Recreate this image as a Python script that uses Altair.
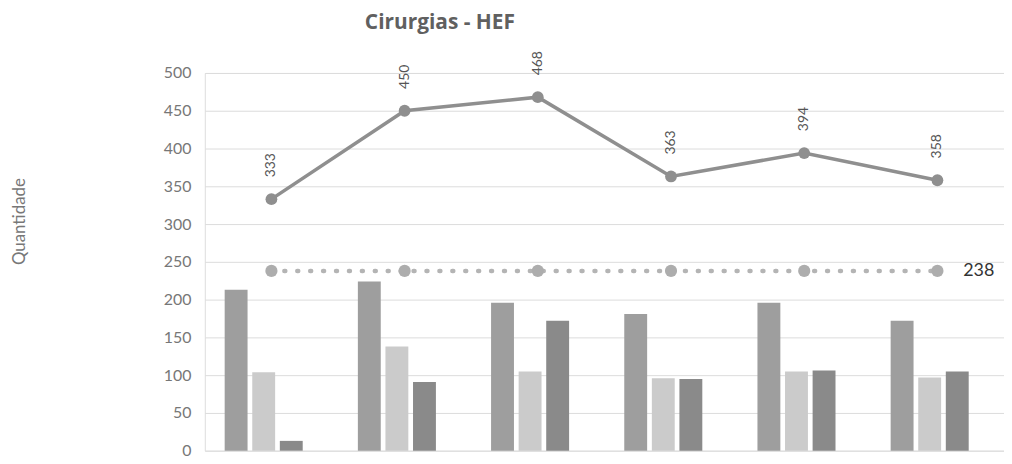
import altair as alt
import pandas as pd

categories = ["G1", "G2", "G3", "G4", "G5", "G6"]
series = ["A", "B", "C"]
values_a = [213, 224, 196, 181, 196, 172]
values_b = [104, 138, 105, 96, 105, 97]
values_c = [13, 91, 172, 95, 106, 105]
totals = [333, 450, 468, 363, 394, 358]
average = [238, 238, 238, 238, 238, 238]
y_ticks = [0, 50, 100, 150, 200, 250, 300, 350, 400, 450, 500]

bar_rows = []
for i, c in enumerate(categories):
    for s, vals in zip(series, [values_a, values_b, values_c]):
        bar_rows.append({"cat": c, "series": s, "value": vals[i]})
bars_df = pd.DataFrame(bar_rows)
line_df = pd.DataFrame({"cat": categories, "total": totals, "avg": average,
                        "last": [i == len(categories) - 1 for i in range(len(categories))]})

FONT = "Lato"
x_enc = alt.X("cat:N", sort=categories, axis=None,
              scale=alt.Scale(paddingInner=0, paddingOuter=0))
y_scale = alt.Scale(domain=[0, 500], nice=False)
y_axis = alt.Axis(values=y_ticks, grid=True, gridColor="#dcdcdc", gridWidth=1,
                  domain=False, ticks=False, labelFont=FONT, labelFontSize=16,
                  labelColor="#777777", labelPadding=14, labelOverlap=False,
                  title="Quantidade", titleFont=FONT, titleFontSize=17,
                  titleFontWeight="normal", titleColor="#777777",
                  titleX=-186, titleY=149, titleAngle=270, titleBaseline="middle",
                  titleAlign="center")


def yq(field):
    return alt.Y(field, scale=y_scale, axis=y_axis)


bars = alt.Chart(bars_df).mark_bar().encode(
    x=x_enc,
    xOffset=alt.XOffset("series:N", sort=series,
                        scale=alt.Scale(paddingInner=0.17, paddingOuter=1, align=0.36)),
    y=yq("value:Q"),
    color=alt.Color("series:N", sort=series, legend=None,
                    scale=alt.Scale(domain=series, range=["#9e9e9e", "#cbcbcb", "#8a8a8a"])),
)

base = alt.Chart(line_df).encode(x=x_enc)

avg_line = base.mark_line(color="#b4b4b4", strokeWidth=4.5, strokeDash=[1, 12],
                          strokeCap="round").encode(y=yq("avg:Q"))
avg_pts = base.mark_point(filled=True, shape="circle", size=150, color="#adadad",
                          opacity=1).encode(y=yq("avg:Q"))
avg_label = base.transform_filter("datum.last").mark_text(
    align="left", baseline="middle", dx=26, font=FONT, fontSize=18, color="#333333"
).encode(y=yq("avg:Q"), text=alt.Text("avg:Q"))

tot_line = base.mark_line(color="#8f8f8f", strokeWidth=3.5).encode(y=yq("total:Q"))
tot_pts = base.mark_point(filled=True, shape="circle", size=140, color="#8f8f8f",
                          opacity=1).encode(y=yq("total:Q"))
tot_labels = base.mark_text(angle=270, align="left", baseline="middle", dx=22,
                            font=FONT, fontSize=14, color="#555555").encode(
    y=yq("total:Q"), text=alt.Text("total:Q"))

chart = alt.layer(bars, avg_line, avg_pts, avg_label, tot_line, tot_pts, tot_labels).properties(
    width=804, height=380,
    title=alt.TitleParams("Cirurgias  - HEF", anchor="start", frame="group", dx=161,
                          offset=18, font="Open Sans", fontSize=21, fontWeight="bold",
                          color="#606060"),
    autosize=alt.AutoSizeParams(type="none"),
    padding={"left": 198, "top": 64, "right": 0, "bottom": 10},
).configure_view(stroke=None).configure(background="white")

chart.save("out.html", embed_options={"renderer": "svg", "actions": False})
